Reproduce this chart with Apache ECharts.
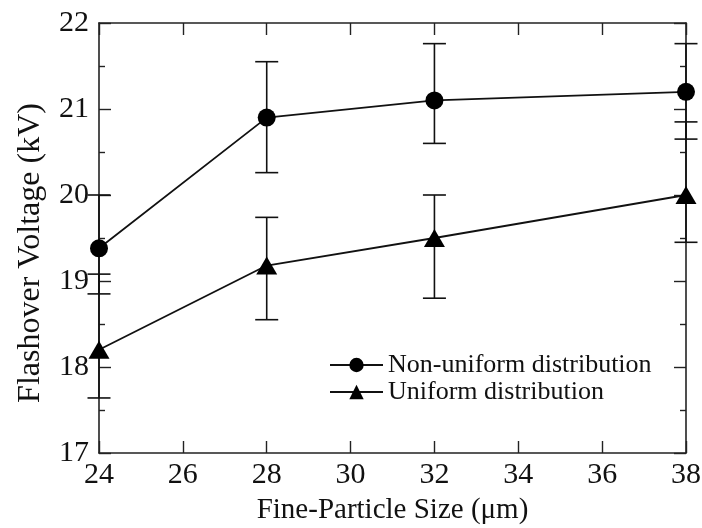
<!DOCTYPE html>
<html>
<head>
<meta charset="utf-8">
<script src="https://cdn.jsdelivr.net/npm/echarts@6/dist/echarts.min.js"></script>
<style>html,body{margin:0;padding:0;background:#fff;}#c{width:702px;height:528px;}</style>
</head>
<body>
<div id="c"></div>
<script>
var sizes = [24, 28, 32, 38];
var nonUniform = [19.38, 20.9, 21.1, 21.2];
var nonUniformLow = [18.85, 20.26, 20.6, 20.65];
var nonUniformHigh = [20.0, 21.55, 21.76, 21.76];
var uniform = [18.2, 19.18, 19.5, 20.0];
var uniformLow = [17.64, 18.55, 18.8, 19.45];
var uniformHigh = [19.08, 19.74, 20.0, 20.85];
var xTicks = [24, 26, 28, 30, 32, 34, 36, 38];
var yTicks = [17, 18, 19, 20, 21, 22];

var FONT = 'Liberation Serif';
var chart = echarts.init(document.getElementById('c'));

function errData(lo, hi) {
  return sizes.map(function (x, i) { return [x, lo[i], hi[i]]; });
}
function errRender(params, api) {
  var x = api.value(0);
  var p1 = api.coord([x, api.value(1)]);
  var p2 = api.coord([x, api.value(2)]);
  var hw = 11.5;
  var st = { stroke: '#111', lineWidth: 1.6 };
  return {
    type: 'group',
    children: [
      { type: 'line', shape: { x1: p1[0], y1: p1[1], x2: p2[0], y2: p2[1] }, style: st },
      { type: 'line', shape: { x1: p1[0] - hw, y1: p1[1], x2: p1[0] + hw, y2: p1[1] }, style: st },
      { type: 'line', shape: { x1: p2[0] - hw, y1: p2[1], x2: p2[0] + hw, y2: p2[1] }, style: st }
    ]
  };
}

var axisLine = { show: true, lineStyle: { color: '#222', width: 1.6 } };
var tickStyle = { color: '#222', width: 1.4 };

chart.setOption({
  animation: false,
  backgroundColor: '#fff',
  grid: { left: 99, right: 16, top: 23, bottom: 75, containLabel: false, outerBoundsMode: 'none' },
  xAxis: [{
    type: 'value', min: xTicks[0], max: xTicks[xTicks.length - 1], interval: 2,
    position: 'bottom',
    axisLine: axisLine,
    axisTick: { show: true, inside: true, length: 12, lineStyle: tickStyle },
    axisLabel: { color: '#111', fontFamily: FONT, fontSize: 30, margin: 7 },
    splitLine: { show: false },
    name: 'Fine-Particle Size (\u03bcm)', nameLocation: 'middle', nameGap: 43,
    nameTextStyle: { color: '#111', fontFamily: FONT, fontSize: 29 }
  }, {
    type: 'value', min: xTicks[0], max: xTicks[xTicks.length - 1], interval: 2,
    position: 'top',
    axisLine: axisLine,
    axisTick: { show: true, inside: true, length: 12, lineStyle: tickStyle },
    axisLabel: { show: false },
    splitLine: { show: false }
  }],
  yAxis: [{
    type: 'value', min: yTicks[0], max: yTicks[yTicks.length - 1], interval: 1,
    position: 'left',
    axisLine: axisLine,
    axisTick: { show: true, inside: true, length: 12, lineStyle: tickStyle },
    minorTick: { show: true, splitNumber: 2, length: 6, lineStyle: tickStyle },
    axisLabel: { color: '#111', fontFamily: FONT, fontSize: 30, margin: 10 },
    splitLine: { show: false },
    name: 'Flashover Voltage (kV)', nameLocation: 'middle', nameGap: 52,
    nameTextStyle: { color: '#111', fontFamily: FONT, fontSize: 32, padding: [0, 30, 0, 0] }
  }, {
    type: 'value', min: yTicks[0], max: yTicks[yTicks.length - 1], interval: 1,
    position: 'right',
    axisLine: axisLine,
    axisTick: { show: true, inside: true, length: 12, lineStyle: tickStyle },
    minorTick: { show: true, splitNumber: 2, length: 6, lineStyle: tickStyle },
    axisLabel: { show: false },
    splitLine: { show: false }
  }],
  legend: {
    orient: 'vertical', left: 329, top: 352, padding: 0,
    itemWidth: 53, itemHeight: 18, itemGap: 1,
    textStyle: { color: '#111', fontFamily: FONT, fontSize: 26 },
    data: [{ name: 'Non-uniform distribution' }, { name: 'Uniform distribution' }]
  },
  series: [{
    type: 'custom', name: 'errNU', renderItem: errRender, clip: false,
    data: errData(nonUniformLow, nonUniformHigh), z: 2
  }, {
    type: 'custom', name: 'errU', renderItem: errRender, clip: false,
    data: errData(uniformLow, uniformHigh), z: 2
  }, {
    type: 'line', name: 'Non-uniform distribution',
    data: sizes.map(function (x, i) { return [x, nonUniform[i]]; }),
    symbol: 'circle', symbolSize: 18, clip: false,
    lineStyle: { color: '#111', width: 1.8 },
    itemStyle: { color: '#000', borderWidth: 0 }, z: 3
  }, {
    type: 'line', name: 'Uniform distribution',
    data: sizes.map(function (x, i) { return [x, uniform[i]]; }),
    symbol: 'triangle', symbolSize: [21, 18], clip: false,
    lineStyle: { color: '#111', width: 1.8 },
    itemStyle: { color: '#000', borderWidth: 0 }, z: 3
  }]
});
</script>
</body>
</html>
